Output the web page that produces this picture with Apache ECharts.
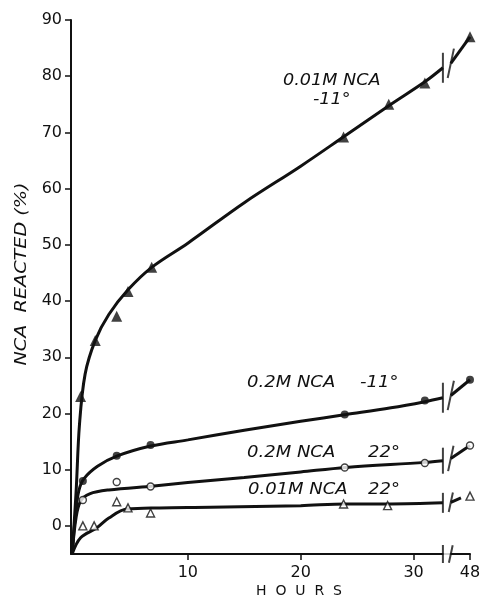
<!DOCTYPE html>
<html>
<head>
<meta charset="utf-8">
<style>
  html, body { margin: 0; padding: 0; background: #fff; }
  #chart { width: 484px; height: 597px; }
</style>
<script src="https://cdn.jsdelivr.net/npm/echarts@6/dist/echarts.min.js"></script>
</head>
<body>
<div id="chart"></div>
<script>
// 横轴在 33h 之后断开，48h 画在轴位置 35 上
const LAST_HOUR = 48
const LAST_POS = 35
const BREAK_LEFT = 32.6
const BREAK_RIGHT = 33.3

const xTickPos = [10, 20, 30, 35]
const xTickLabels = ['10', '20', '30', '48']
const yTicks = [0, 10, 20, 30, 40, 50, 60, 70, 80, 90]

// 实测点（小时, %）
const hoursA = [0.5, 1.8, 3.7, 4.7, 6.8, 23.8, 27.8, 31, 48]   // 0.01M NCA -11°
const valuesA = [23, 33, 37.3, 41.7, 46, 69.2, 75, 78.8, 87]
const hoursB = [0.7, 3.7, 6.7, 23.9, 31, 48]                  // 0.2M NCA -11°
const valuesB = [8, 12.5, 14.4, 19.8, 22.3, 26]
const hoursC = [0.7, 3.7, 6.7, 23.9, 31, 48]                  // 0.2M NCA 22°
const valuesC = [4.6, 7.8, 7.0, 10.4, 11.2, 14.3]
const hoursD = [0.7, 1.7, 3.7, 4.7, 6.7, 23.8, 27.7, 48]      // 0.01M NCA 22°
const valuesD = [0, 0, 4.3, 3.2, 2.3, 3.9, 3.6, 5.3]

// 手绘拟合曲线（轴位置, %），断点前后分两段
const curveA = [[-0.25, -5], [0.1, 6], [0.4, 18], [0.9, 27], [1.8, 33], [3, 37.6], [4.7, 42], [6.8, 46], [10, 50.3], [15, 57.5], [20, 64], [24, 69.5], [28, 75], [31, 79], [32.6, 81.5]]
const tailA = [[33.3, 82.3], [35, 87]]
const curveB = [[-0.25, -5], [0.05, 2], [0.35, 6.3], [0.8, 8.4], [2, 10.6], [3.7, 12.4], [6.7, 14.2], [10, 15.3], [15, 17], [20, 18.6], [24, 19.8], [28, 21], [31, 22.1], [32.6, 22.8]]
const tailB = [[33.3, 23.2], [35, 26]]
const curveC = [[-0.25, -5], [0.1, 1.5], [0.5, 4.4], [1.3, 5.7], [3, 6.4], [7, 7.1], [10, 7.7], [15, 8.6], [20, 9.6], [24, 10.4], [31, 11.3], [32.6, 11.6]]
const tailC = [[33.3, 12], [35, 14.3]]
const curveD = [[-0.25, -5], [0.5, -2.1], [1.9, -0.4], [3, 1.4], [4.6, 3], [7.5, 3.2], [12, 3.3], [20, 3.6], [24, 3.9], [28, 3.9], [32.6, 4.1]]
const tailD = [[33.3, 4.2], [34.2, 5]]

const toAxis = (h) => (h === LAST_HOUR ? LAST_POS : h)
const pts = (hs, vs) => hs.map((h, i) => [toAxis(h), vs[i]])

const INK = '#111'
const FONT = 'DejaVu Sans'

const curve = (data) => ({
    type: 'line', data, smooth: 0.35, symbol: 'none', silent: true,
    lineStyle: { color: INK, width: 3 }, z: 3,
})
const markers = (data, symbol, size, filled) => ({
    type: 'scatter', data, symbol, symbolSize: size, clip: false, z: 5,
    itemStyle: filled
        ? { color: INK }
        : { color: '#fff', borderColor: INK, borderWidth: 1.4 },
})

// 断点处的短竖线（左边直，右边略斜）
const breakMarks = (y, h) => ({
    type: 'scatter',
    data: [
        { value: [BREAK_LEFT, y[0]], symbolRotate: 0 },
        { value: [BREAK_RIGHT, y[1]], symbolRotate: -12 },
    ],
    symbol: 'rect', symbolSize: [2, h], clip: false, z: 6,
    itemStyle: { color: INK },
})

const label = (text, x, y, size, scale) => ({
    type: 'text', x, y, scaleX: scale,
    style: { text, font: `italic ${size}px ${FONT}`, fill: INK, textVerticalAlign: 'middle' },
})

const chart = echarts.init(document.getElementById('chart'), null, { renderer: 'canvas' })

chart.setOption({
    animation: false,
    backgroundColor: '#fff',
    grid: { left: 71, right: 14, top: 20, bottom: 43 },
    xAxis: {
        type: 'value', min: -0.35, max: 35,
        splitLine: { show: false },
        axisLine: { onZero: false, lineStyle: { color: INK, width: 2 } },
        axisTick: { customValues: xTickPos, length: 6, lineStyle: { color: INK, width: 1.5 } },
        axisLabel: {
            customValues: xTickPos, margin: 11, color: INK, fontFamily: FONT, fontSize: 16,
            formatter: (v) => xTickLabels[xTickPos.indexOf(v)] || '',
        },
    },
    yAxis: {
        type: 'value', min: -5, max: 90,
        splitLine: { show: false },
        axisLine: { onZero: false, lineStyle: { color: INK, width: 2 } },
        axisTick: { customValues: yTicks, length: 6, lineStyle: { color: INK, width: 1.5 } },
        axisLabel: { customValues: yTicks, margin: 9, color: INK, fontFamily: FONT, fontSize: 16 },
    },
    series: [
        curve(curveA), curve(tailA),
        curve(curveB), curve(tailB),
        curve(curveC), curve(tailC),
        curve(curveD), curve(tailD),
        markers(pts(hoursA, valuesA), 'triangle', 11, true),
        markers(pts(hoursB, valuesB), 'circle', 8, true),
        markers(pts(hoursC, valuesC), 'circle', 7, false),
        markers(pts(hoursD, valuesD), 'triangle', 8, false),
        breakMarks([81.5, 82.3], 30),
        breakMarks([22.8, 23.2], 30),
        breakMarks([11.6, 12], 26),
        breakMarks([4.1, 4.2], 20),
        // 横轴断口：白块盖住轴线，再画两根竖线
        {
            type: 'scatter', data: [[(BREAK_LEFT + BREAK_RIGHT) / 2, -5]],
            symbol: 'rect', symbolSize: [7, 5], clip: false, z: 5,
            itemStyle: { color: '#fff' },
        },
        breakMarks([-5, -5], 18),
    ],
    graphic: [
        label('0.01M NCA', 283, 81, 16, 1.1),
        label('-11°', 313, 100, 16, 1.1),
        label('0.2M NCA', 247, 383, 15, 1.2),
        label('-11°', 360, 383, 15, 1.2),
        label('0.2M NCA', 247, 453, 15, 1.2),
        label('22°', 368, 453, 15, 1.2),
        label('0.01M NCA', 248, 490, 15, 1.2),
        label('22°', 368, 490, 15, 1.2),
        { type: 'text', x: 299, y: 591, style: { text: 'H  O  U  R  S', font: `14px ${FONT}`, fill: INK, textAlign: 'center', textVerticalAlign: 'middle' } },
        {
            type: 'text', x: 22, y: 274, rotation: Math.PI / 2, scaleX: 1.2,
            style: { text: 'NCA  REACTED (%)', font: `italic 16px ${FONT}`, fill: INK, textAlign: 'center', textVerticalAlign: 'middle' },
        },
    ],
})
</script>
</body>
</html>
